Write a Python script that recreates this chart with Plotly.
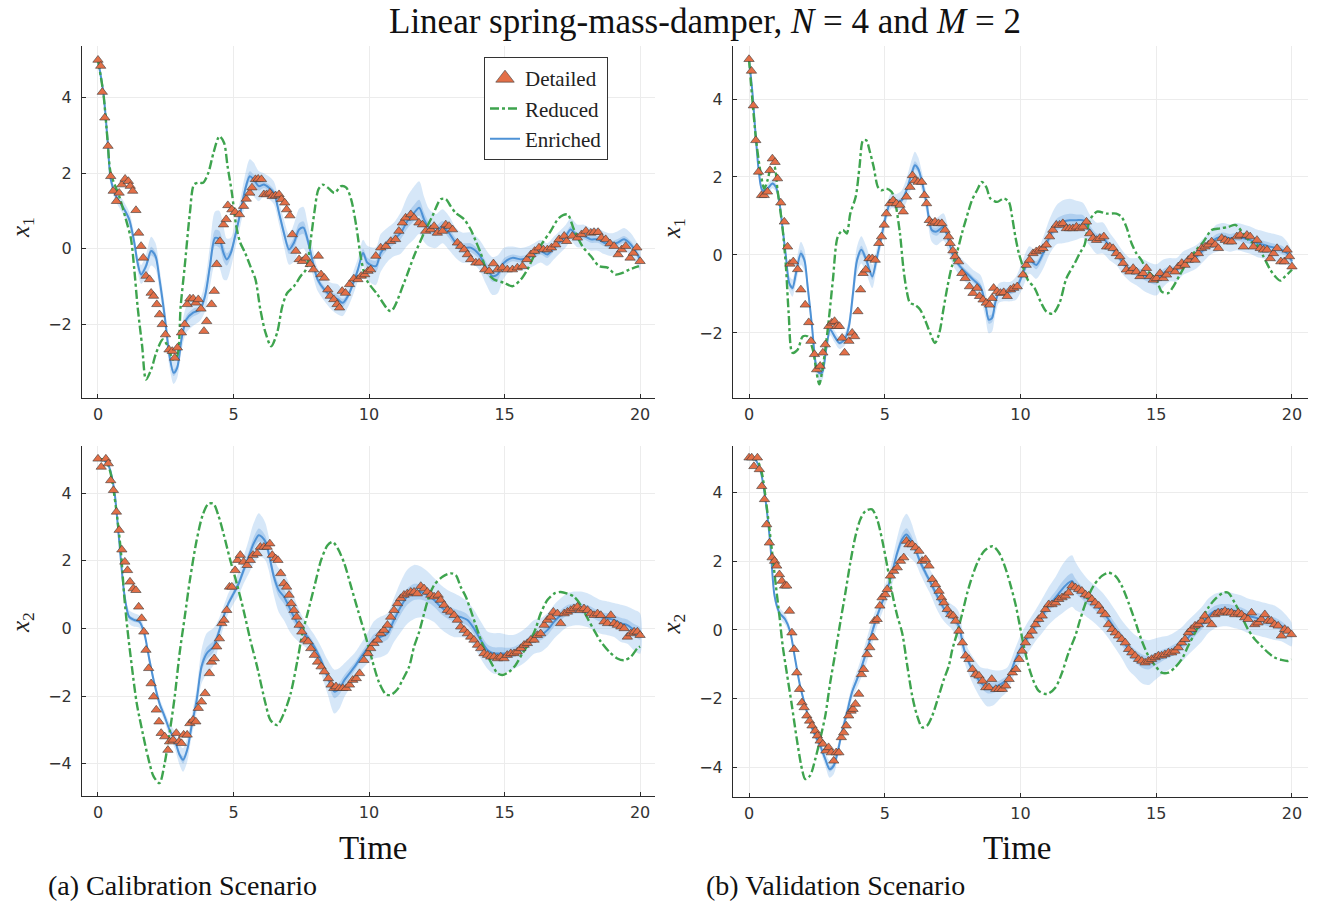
import plotly.graph_objects as go

# ---------------------------------------------------------------------------
# Linear spring-mass-damper trajectories, N = 4 and M = 2
# Detailed model samples (t, value); reduced model curve (t, value);
# enriched model mean with its uncertainty half-width (t, value, halfwidth)
# ---------------------------------------------------------------------------

# (a) Calibration scenario, state x1
cal_x1_detailed = [
    (0, 5.0), (0.1, 4.84), (0.16, 4.15), (0.25, 3.47), (0.37, 2.72), (0.47, 1.92), (0.56, 1.53),
    (0.68, 1.26), (0.78, 1.48), (0.88, 1.70), (1.0, 1.85), (1.12, 1.79), (1.19, 1.66), (1.28, 1.53),
    (1.40, 1.02), (1.50, 0.42), (1.59, 0.07), (1.67, -0.24), (1.77, -0.72), (1.90, -0.81), (1.96, -1.17),
    (2.05, -1.25), (2.17, -1.47), (2.27, -1.74), (2.37, -2.0), (2.49, -2.27), (2.62, -2.67), (2.74, -2.71),
    (2.83, -2.89), (2.93, -2.62), (3.08, -2.22), (3.2, -2.0), (3.29, -1.47), (3.39, -1.32), (3.51, -1.32),
    (3.61, -1.43), (3.70, -1.34), (3.80, -1.59), (3.91, -2.18), (4.01, -1.92), (4.19, -1.47), (4.29, -1.12),
    (4.38, -0.41), (4.5, 0.2), (4.63, 0.64), (4.73, 0.78), (4.79, 1.15), (4.94, 1.04), (5.06, 0.97),
    (5.22, 0.91), (5.37, 1.13), (5.47, 1.32), (5.6, 1.48), (5.68, 1.62), (5.81, 1.84), (5.91, 1.85),
    (6.03, 1.84), (6.12, 1.44), (6.22, 1.44), (6.34, 1.48), (6.43, 1.39), (6.55, 1.41), (6.68, 1.44),
    (6.77, 1.31), (6.89, 1.22), (6.96, 1.04), (7.08, 0.88), (7.17, 0.38), (7.30, -0.06), (7.42, -0.28),
    (7.54, -0.33), (7.67, -0.24), (7.83, -0.41), (7.95, -0.55), (8.13, -0.19), (8.23, -0.68), (8.35, -0.77),
    (8.48, -1.08), (8.57, -1.25), (8.70, -1.34), (8.82, -1.47), (8.91, -1.56), (9.01, -1.12), (9.13, -1.17),
    (9.28, -0.94), (9.44, -0.79), (9.59, -0.81), (9.71, -0.72), (9.84, -0.68), (9.96, -0.59),
    (10.06, -0.55), (10.25, -0.19), (10.43, 0.03), (10.62, 0.07), (10.8, 0.2), (10.98, 0.25), (11.1, 0.47),
    (11.23, 0.69), (11.35, 0.82), (11.54, 0.91), (11.66, 0.82), (11.84, 0.69), (11.97, 0.64), (12.09, 0.47),
    (12.28, 0.51), (12.4, 0.6), (12.52, 0.42), (12.71, 0.47), (12.83, 0.64), (12.95, 0.6), (13.08, 0.51),
    (13.26, 0.16), (13.38, 0.07), (13.51, -0.02), (13.63, -0.15), (13.75, -0.28), (13.94, -0.37),
    (14.06, -0.37), (14.27, -0.55), (14.43, -0.59), (14.59, -0.39), (14.74, -0.55), (14.92, -0.5),
    (15.1, -0.55), (15.29, -0.55), (15.47, -0.5), (15.66, -0.46), (15.82, -0.28), (15.97, -0.15),
    (16.11, -0.06), (16.27, 0.03), (16.43, -0.02), (16.58, -0.02), (16.73, 0.03), (16.89, 0.11),
    (17.01, 0.25), (17.2, 0.34), (17.29, 0.2), (17.5, 0.34), (17.69, 0.29), (17.84, 0.38), (18.0, 0.47),
    (18.18, 0.42), (18.3, 0.44), (18.45, 0.44), (18.57, 0.29), (18.73, 0.25), (18.89, 0.14), (19.04, 0.07),
    (19.19, -0.15), (19.32, -0.02), (19.47, 0.07), (19.63, -0.24), (19.75, -0.11), (19.88, 0.03), (20.0, -0.33),
]
cal_x1_reduced = [
    (0, 5.0), (0.2, 4.1), (0.35, 2.9), (0.47, 2.0), (0.78, 1.4), (1.03, 0.78), (1.22, 0.25), (1.34, -0.55),
    (1.46, -1.52), (1.63, -2.58), (1.77, -3.46), (1.96, -3.2), (2.15, -2.75), (2.39, -2.4), (2.58, -2.58),
    (2.77, -2.93), (2.92, -2.84), (3.05, -1.52), (3.2, -0.46), (3.39, 0.95), (3.54, 1.70), (3.70, 1.75),
    (3.88, 1.75), (4.07, 2.01), (4.26, 2.54), (4.48, 2.98), (4.65, 2.81), (4.78, 2.19), (4.94, 1.48),
    (5.1, 0.6), (5.25, 0.16), (5.43, -0.11), (5.62, -0.46), (5.81, -0.81), (5.99, -1.61), (6.18, -2.22),
    (6.39, -2.58), (6.61, -2.22), (6.80, -1.52), (6.98, -1.17), (7.23, -0.99), (7.48, -0.72), (7.67, -0.55),
    (7.85, 0.25), (7.98, 0.95), (8.13, 1.57), (8.29, 1.70), (8.48, 1.62), (8.72, 1.48), (8.97, 1.66),
    (9.16, 1.62), (9.34, 1.31), (9.53, 0.6), (9.71, -0.28), (9.9, -0.81), (10.3, -1.2), (10.8, -1.65),
    (11.29, -0.9), (11.66, -0.19), (12.03, 0.42), (12.34, 0.87), (12.64, 1.31), (12.83, 1.32), (13.01, 1.13),
    (13.2, 0.95), (13.51, 0.78), (13.75, 0.51), (13.94, 0.2), (14.12, -0.11), (14.37, -0.64), (14.61, -0.81),
    (14.98, -0.9), (15.29, -0.99), (15.6, -0.81), (15.84, -0.55), (16.09, -0.19), (16.4, 0.16), (16.7, 0.47),
    (17.01, 0.82), (17.32, 0.91), (17.56, 0.51), (17.87, 0.07), (18.18, -0.19), (18.49, -0.46), (18.8, -0.5),
    (19.1, -0.68), (19.35, -0.64), (19.6, -0.55), (19.96, -0.46),
]
cal_x1_enriched = [
    (0, 5.0, 0.08), (0.2, 4.13, 0.1), (0.35, 2.9, 0.12), (0.47, 1.84, 0.15), (0.66, 1.4, 0.15),
    (0.9, 1.13, 0.18), (1.15, 0.78, 0.2), (1.34, 0.16, 0.22), (1.46, -0.37, 0.22), (1.59, -0.68, 0.25),
    (1.77, -0.46, 0.3), (1.96, -0.06, 0.38), (2.12, -0.19, 0.35), (2.27, -0.81, 0.3), (2.46, -1.78, 0.3),
    (2.64, -2.84, 0.3), (2.79, -3.28, 0.3), (2.92, -3.15, 0.28), (3.08, -2.4, 0.3), (3.26, -1.87, 0.35),
    (3.51, -1.69, 0.35), (3.76, -1.61, 0.3), (3.95, -1.25, 0.4), (4.13, -0.46, 0.55), (4.32, 0.29, 0.7),
    (4.48, 0.25, 0.75), (4.63, -0.11, 0.7), (4.75, -0.28, 0.55), (4.9, -0.11, 0.4), (5.06, 0.34, 0.35),
    (5.25, 0.95, 0.35), (5.43, 1.57, 0.4), (5.6, 1.92, 0.45), (5.74, 1.84, 0.45), (5.93, 1.66, 0.4),
    (6.12, 1.7, 0.3), (6.3, 1.62, 0.3), (6.49, 1.48, 0.3), (6.68, 0.95, 0.3), (6.86, 0.42, 0.35),
    (7.05, -0.02, 0.4), (7.23, 0.16, 0.5), (7.42, 0.51, 0.55), (7.58, 0.56, 0.55), (7.73, 0.25, 0.45),
    (7.92, -0.33, 0.35), (8.1, -0.81, 0.3), (8.35, -1.08, 0.3), (8.6, -1.25, 0.35), (8.85, -1.34, 0.4),
    (9.03, -1.43, 0.35), (9.22, -1.25, 0.3), (9.40, -0.94, 0.3), (9.59, -0.55, 0.3), (9.78, -0.11, 0.35),
    (9.94, -0.37, 0.45), (10.25, -0.46, 0.5), (10.43, -0.11, 0.5), (10.68, 0.11, 0.45), (10.92, 0.25, 0.45),
    (11.17, 0.42, 0.55), (11.41, 0.73, 0.65), (11.66, 0.95, 0.7), (11.85, 1.09, 0.7), (12.03, 0.78, 0.6),
    (12.21, 0.56, 0.5), (12.46, 0.47, 0.45), (12.71, 0.6, 0.45), (12.95, 0.42, 0.45), (13.2, 0.16, 0.4),
    (13.44, 0.03, 0.4), (13.75, 0.03, 0.4), (14.06, -0.15, 0.4), (14.3, -0.46, 0.45), (14.55, -0.72, 0.5),
    (14.74, -0.68, 0.5), (14.98, -0.37, 0.4), (15.29, -0.24, 0.3), (15.6, -0.28, 0.3), (15.84, -0.24, 0.3),
    (16.09, -0.15, 0.3), (16.33, -0.06, 0.3), (16.58, -0.15, 0.3), (16.83, 0.03, 0.3), (17.07, 0.2, 0.3),
    (17.26, 0.34, 0.3), (17.44, 0.51, 0.3), (17.69, 0.34, 0.3), (17.93, 0.34, 0.3), (18.18, 0.25, 0.3),
    (18.43, 0.25, 0.3), (18.67, 0.16, 0.3), (18.92, 0.11, 0.3), (19.16, 0.16, 0.3), (19.41, 0.25, 0.3),
    (19.66, 0.11, 0.3), (19.9, -0.15, 0.3), (20, -0.28, 0.3),
]

# (b) Validation scenario, state x1
val_x1_detailed = [
    (0, 5.02), (0.09, 4.72), (0.16, 3.83), (0.25, 2.94), (0.35, 2.13), (0.46, 1.53), (0.56, 1.53),
    (0.68, 1.62), (0.77, 2.17), (0.86, 2.47), (0.96, 2.38), (1.05, 1.96), (1.17, 1.34), (1.3, 0.85),
    (1.42, 0.21), (1.51, -0.23), (1.63, -0.17), (1.79, -0.37), (1.91, -0.89), (2.07, -1.28), (2.2, -1.73),
    (2.28, -2.21), (2.41, -2.55), (2.49, -2.94), (2.62, -2.85), (2.72, -2.51), (2.81, -2.3), (2.94, -1.83),
    (3.05, -1.74), (3.15, -1.70), (3.23, -1.83), (3.33, -1.83), (3.43, -2.13), (3.52, -2.51), (3.68, -2.21),
    (3.80, -2.0), (3.89, -2.09), (4.01, -1.45), (4.11, -0.89), (4.20, -0.47), (4.3, -0.38), (4.42, -0.09),
    (4.54, -0.09), (4.65, -0.13), (4.78, 0.3), (4.88, 0.47), (4.98, 0.77), (5.06, 1.06), (5.19, 1.32),
    (5.31, 1.4), (5.43, 1.32), (5.56, 1.28), (5.68, 1.11), (5.80, 1.49), (5.93, 1.74), (6.02, 2.04),
    (6.11, 1.91), (6.23, 1.87), (6.36, 1.87), (6.46, 1.53), (6.54, 1.32), (6.64, 0.89), (6.73, 0.81),
    (6.85, 0.85), (6.98, 0.81), (7.10, 0.81), (7.22, 0.64), (7.35, 0.47), (7.41, 0.3), (7.51, 0.11),
    (7.59, -0.04), (7.72, -0.17), (7.84, -0.47), (7.96, -0.6), (8.12, -0.81), (8.25, -0.98), (8.4, -0.85),
    (8.49, -1.06), (8.62, -1.15), (8.74, -1.23), (8.86, -1.28), (8.95, -1.11), (9.01, -0.85), (9.14, -0.94),
    (9.26, -0.98), (9.38, -0.96), (9.51, -1.06), (9.63, -0.89), (9.75, -0.85), (9.88, -0.81),
    (10.09, -0.51), (10.21, -0.26), (10.33, -0.13), (10.46, 0.04), (10.58, 0.09), (10.7, 0.13), (10.83, 0.17),
    (10.95, 0.26), (11.07, 0.47), (11.19, 0.64), (11.32, 0.77), (11.44, 0.77), (11.56, 0.81), (11.69, 0.68),
    (11.81, 0.68), (11.93, 0.68), (12.06, 0.72), (12.18, 0.68), (12.3, 0.72), (12.43, 0.85), (12.55, 0.55),
    (12.67, 0.43), (12.8, 0.38), (12.92, 0.43), (13.07, 0.47), (13.17, 0.21), (13.29, 0.21), (13.41, 0.17),
    (13.53, 0.04), (13.66, -0.04), (13.78, -0.21), (13.9, -0.38), (14.03, -0.43), (14.15, -0.34),
    (14.27, -0.43), (14.4, -0.55), (14.52, -0.47), (14.64, -0.34), (14.77, -0.55), (14.89, -0.64),
    (15.01, -0.6), (15.14, -0.47), (15.26, -0.6), (15.38, -0.51), (15.5, -0.38), (15.69, -0.43), (15.81, -0.3),
    (15.94, -0.21), (16.06, -0.26), (16.18, -0.13), (16.31, -0.04), (16.43, -0.13), (16.55, 0.04),
    (16.67, 0.17), (16.8, 0.21), (16.92, 0.26), (17.04, 0.34), (17.17, 0.26), (17.29, 0.17), (17.41, 0.43),
    (17.54, 0.38), (17.66, 0.34), (17.78, 0.34), (17.97, 0.47), (18.09, 0.51), (18.21, 0.21), (18.34, 0.51),
    (18.46, 0.47), (18.58, 0.21), (18.71, 0.38), (18.83, 0.17), (18.95, 0.13), (19.08, 0.13), (19.2, -0.09),
    (19.32, 0.04), (19.45, 0.17), (19.59, -0.17), (19.72, -0.17), (19.82, 0.13), (19.91, -0.04), (20.0, -0.3),
]
val_x1_reduced = [
    (0, 5.02), (0.25, 3.02), (0.43, 2.09), (0.56, 1.70), (0.68, 1.91), (0.8, 2.21), (0.93, 2.26),
    (1.05, 1.66), (1.23, 0.72), (1.36, -0.3), (1.46, -1.49), (1.6, -2.51), (1.79, -2.43), (1.98, -2.09),
    (2.16, -2.09), (2.35, -2.43), (2.49, -3.02), (2.59, -3.32), (2.74, -2.77), (2.9, -1.91), (3.09, -0.64),
    (3.27, 0.47), (3.46, 0.64), (3.6, 0.55), (3.73, 1.06), (3.93, 1.49), (4.07, 2.26), (4.2, 2.94),
    (4.32, 2.94), (4.44, 2.68), (4.59, 2.26), (4.75, 1.74), (4.88, 1.66), (5.06, 1.70), (5.25, 1.62),
    (5.37, 1.40), (5.56, 0.55), (5.68, -0.3), (5.8, -0.89), (5.93, -1.23), (6.11, -1.28), (6.3, -1.40),
    (6.48, -1.66), (6.67, -2.0), (6.85, -2.26), (7.01, -2.0), (7.16, -1.40), (7.31, -0.81), (7.47, -0.30),
    (7.65, 0.04), (7.84, 0.55), (8.02, 0.98), (8.21, 1.40), (8.4, 1.66), (8.58, 1.87), (8.74, 1.74),
    (8.89, 1.45), (9.14, 1.36), (9.38, 1.45), (9.57, 1.36), (9.69, 0.98), (9.81, 0.47), (9.94, 0.04),
    (10.09, -0.3), (10.27, -0.64), (10.52, -0.85), (10.76, -1.23), (10.95, -1.45), (11.19, -1.51),
    (11.44, -1.23), (11.69, -0.6), (12.0, -0.21), (12.18, 0.04), (12.36, 0.26), (12.55, 0.89), (12.82, 1.11),
    (13.17, 1.06), (13.53, 1.06), (13.72, 0.98), (13.9, 0.72), (14.09, 0.3), (14.27, 0.04), (14.46, -0.14),
    (14.64, -0.38), (14.83, -0.51), (15.01, -0.64), (15.2, -0.94), (15.44, -0.98), (15.63, -0.81),
    (15.87, -0.51), (16.12, -0.21), (16.43, 0.09), (16.74, 0.34), (17.04, 0.64), (17.35, 0.68), (17.66, 0.72),
    (17.91, 0.77), (18.21, 0.55), (18.46, 0.34), (18.71, 0.26), (18.95, -0.04), (19.2, -0.38), (19.38, -0.55),
    (19.57, -0.66), (19.75, -0.55), (20, -0.38),
]
val_x1_enriched = [
    (0, 5.02, 0.05), (0.12, 4.21, 0.08), (0.25, 3.02, 0.1), (0.37, 2.09, 0.12), (0.49, 1.66, 0.12),
    (0.68, 1.70, 0.12), (0.86, 1.83, 0.12), (0.99, 1.74, 0.12), (1.11, 1.40, 0.15), (1.23, 0.72, 0.15),
    (1.36, -0.04, 0.18), (1.48, -0.72, 0.2), (1.6, -0.85, 0.22), (1.73, -0.47, 0.25), (1.91, 0.04, 0.3),
    (2.04, -0.13, 0.28), (2.16, -0.81, 0.22), (2.32, -1.83, 0.2), (2.47, -2.85, 0.2), (2.57, -3.02, 0.2),
    (2.69, -3.02, 0.2), (2.84, -2.43, 0.18), (2.99, -1.91, 0.15), (3.15, -2.09, 0.15), (3.33, -2.26, 0.15),
    (3.52, -2.17, 0.15), (3.68, -1.83, 0.2), (3.83, -0.98, 0.3), (3.98, -0.13, 0.35), (4.14, 0.13, 0.35),
    (4.32, -0.13, 0.35), (4.54, -0.55, 0.3), (4.69, -0.13, 0.25), (4.88, 0.47, 0.2), (5.06, 1.06, 0.2),
    (5.25, 1.40, 0.2), (5.43, 1.36, 0.2), (5.62, 1.40, 0.25), (5.80, 1.66, 0.3), (5.99, 2.09, 0.35),
    (6.11, 2.3, 0.35), (6.23, 2.21, 0.3), (6.36, 1.91, 0.25), (6.54, 1.32, 0.25), (6.73, 0.64, 0.3),
    (6.91, 0.6, 0.35), (7.16, 0.72, 0.35), (7.35, 0.38, 0.3), (7.53, -0.04, 0.25), (7.78, -0.3, 0.25),
    (8.02, -0.47, 0.25), (8.27, -0.64, 0.25), (8.52, -0.81, 0.3), (8.7, -1.23, 0.35), (8.83, -1.66, 0.35),
    (8.95, -1.62, 0.35), (9.07, -1.23, 0.3), (9.2, -0.98, 0.25), (9.38, -0.94, 0.25), (9.63, -0.94, 0.25),
    (9.84, -0.85, 0.3), (10.09, -0.47, 0.35), (10.33, -0.13, 0.35), (10.58, -0.26, 0.35), (10.83, 0.04, 0.4),
    (11.07, 0.47, 0.45), (11.32, 0.77, 0.5), (11.56, 0.85, 0.55), (11.81, 0.89, 0.55), (12.06, 0.89, 0.5),
    (12.3, 0.89, 0.45), (12.55, 0.64, 0.4), (12.8, 0.43, 0.4), (13.04, 0.43, 0.4), (13.29, 0.21, 0.35),
    (13.53, 0.04, 0.3), (13.78, -0.21, 0.3), (14.03, -0.38, 0.3), (14.27, -0.43, 0.35), (14.52, -0.51, 0.4),
    (14.77, -0.6, 0.4), (15.01, -0.64, 0.4), (15.26, -0.47, 0.35), (15.5, -0.38, 0.3), (15.75, -0.38, 0.3),
    (15.99, -0.21, 0.3), (16.24, -0.13, 0.3), (16.49, -0.04, 0.3), (16.74, 0.13, 0.3), (16.98, 0.3, 0.3),
    (17.23, 0.43, 0.35), (17.48, 0.47, 0.35), (17.72, 0.43, 0.35), (17.97, 0.47, 0.35), (18.21, 0.43, 0.35),
    (18.46, 0.38, 0.35), (18.71, 0.3, 0.35), (18.95, 0.26, 0.35), (19.2, 0.21, 0.35), (19.45, 0.17, 0.35),
    (19.63, 0.13, 0.35), (19.82, 0.04, 0.3), (20, -0.17, 0.25),
]

# (a) Calibration scenario, state x2
cal_x2_detailed = [
    (0, 5.02), (0.12, 4.78), (0.29, 5.02), (0.38, 4.88), (0.47, 4.38), (0.57, 4.09), (0.68, 3.45),
    (0.78, 2.91), (0.88, 2.33), (0.99, 1.97), (1.09, 1.72), (1.18, 1.38), (1.3, 1.18), (1.40, 1.13),
    (1.50, 0.64), (1.61, 0.3), (1.69, -0.1), (1.77, -0.64), (1.87, -1.18), (1.96, -1.63), (2.05, -2.02),
    (2.15, -2.41), (2.25, -2.76), (2.33, -3.1), (2.46, -3.2), (2.58, -3.6), (2.64, -3.35), (2.77, -3.3),
    (2.89, -3.1), (2.99, -3.35), (3.08, -3.4), (3.16, -3.15), (3.29, -3.15), (3.39, -2.81), (3.51, -2.71),
    (3.61, -2.76), (3.70, -2.36), (3.82, -2.17), (3.95, -1.92), (4.11, -1.33), (4.19, -0.99), (4.29, -0.89),
    (4.38, -0.54), (4.48, -0.3), (4.57, 0.15), (4.65, 0.25), (4.75, 0.54), (4.85, 1.23), (4.94, 1.23),
    (5.06, 1.72), (5.15, 2.02), (5.25, 2.17), (5.37, 1.97), (5.5, 1.87), (5.62, 2.02), (5.72, 2.17),
    (5.87, 2.22), (5.99, 2.41), (6.12, 2.41), (6.24, 2.41), (6.34, 2.51), (6.43, 2.17), (6.55, 2.07),
    (6.64, 2.02), (6.74, 1.63), (6.86, 1.33), (6.96, 1.23), (7.05, 0.99), (7.13, 0.74), (7.23, 0.54),
    (7.33, 0.34), (7.42, 0.1), (7.52, -0.1), (7.63, -0.34), (7.75, -0.39), (7.85, -0.59), (7.98, -0.79),
    (8.1, -0.99), (8.23, -1.13), (8.35, -1.28), (8.5, -1.48), (8.6, -1.67), (8.70, -1.77), (8.78, -1.72),
    (8.91, -1.77), (9.03, -1.77), (9.16, -1.77), (9.28, -1.67), (9.40, -1.53), (9.53, -1.48), (9.65, -1.33),
    (9.81, -0.94), (9.96, -0.74),
    (10.06, -0.59), (10.18, -0.44), (10.31, -0.34), (10.43, -0.15), (10.55, -0.05), (10.68, 0.1),
    (10.8, 0.34), (10.92, 0.54), (11.05, 0.74), (11.17, 0.89), (11.29, 0.99), (11.41, 1.03), (11.54, 1.08),
    (11.66, 1.08), (11.78, 1.03), (11.91, 1.25), (12.03, 1.18), (12.15, 1.08), (12.28, 0.99), (12.4, 0.94),
    (12.55, 0.99), (12.64, 0.84), (12.77, 0.69), (12.89, 0.54), (13.01, 0.49), (13.14, 0.39), (13.26, 0.25),
    (13.38, 0.05), (13.51, -0.05), (13.63, -0.15), (13.75, -0.25), (13.87, -0.34), (14.0, -0.49),
    (14.12, -0.59), (14.24, -0.74), (14.37, -0.79), (14.49, -0.84), (14.61, -0.84), (14.74, -0.89),
    (14.86, -0.84), (14.98, -0.89), (15.1, -0.79), (15.23, -0.74), (15.35, -0.74), (15.47, -0.69),
    (15.6, -0.59), (15.72, -0.49), (15.84, -0.44), (15.97, -0.34), (16.09, -0.34), (16.21, -0.2),
    (16.33, -0.15), (16.46, 0.1), (16.58, 0.25), (16.7, 0.34), (16.8, 0.49), (16.95, 0.44), (17.07, 0.15),
    (17.2, 0.44), (17.32, 0.49), (17.44, 0.54), (17.56, 0.59), (17.69, 0.64), (17.81, 0.54), (17.93, 0.59),
    (18.06, 0.54), (18.18, 0.44), (18.3, 0.39), (18.43, 0.44), (18.55, 0.39), (18.67, 0.2), (18.8, 0.15),
    (18.92, 0.39), (19.04, 0.15), (19.16, 0.1), (19.29, 0.05), (19.41, 0.0), (19.53, -0.25), (19.66, -0.15),
    (19.78, -0.1), (19.9, -0.1), (20.0, -0.2),
]
cal_x2_reduced = [
    (0, 5.02), (0.29, 4.98), (0.47, 4.58), (0.66, 3.6), (0.84, 2.32), (0.97, 0.94), (1.09, -0.05),
    (1.25, -1.13), (1.43, -2.22), (1.65, -3.1), (1.84, -3.79), (2.05, -4.38), (2.27, -4.58), (2.46, -3.99),
    (2.64, -3.1), (2.83, -2.02), (3.01, -0.74), (3.2, 0.34), (3.39, 1.43), (3.64, 2.61), (3.86, 3.35),
    (4.07, 3.69), (4.26, 3.69), (4.44, 3.35), (4.63, 2.81), (4.88, 2.02), (5.12, 1.33), (5.37, 0.54),
    (5.62, -0.34), (5.87, -1.13), (6.18, -2.22), (6.36, -2.71), (6.61, -2.86), (6.86, -2.51), (7.11, -1.92),
    (7.36, -0.94), (7.54, -0.15), (7.73, 0.44), (7.98, 1.23), (8.23, 2.02), (8.47, 2.46), (8.66, 2.56),
    (8.85, 2.36), (9.09, 1.92), (9.34, 1.23), (9.59, 0.54), (9.88, -0.25), (10.12, -0.95), (10.37, -1.6),
    (10.62, -1.95), (10.8, -1.97), (11.05, -1.8), (11.23, -1.53), (11.48, -1.13), (11.66, -0.54),
    (11.85, -0.1), (12.03, 0.44), (12.21, 0.94), (12.4, 1.28), (12.71, 1.53), (13.01, 1.63), (13.2, 1.58),
    (13.38, 1.23), (13.57, 0.94), (13.75, 0.54), (14.0, -0.05), (14.24, -0.59), (14.49, -0.99), (14.74, -1.33),
    (14.92, -1.38), (15.17, -1.28), (15.41, -1.08), (15.66, -0.74), (15.9, -0.44), (16.15, 0.0), (16.33, 0.44),
    (16.58, 0.84), (16.83, 1.03), (17.07, 1.08), (17.32, 1.03), (17.56, 0.94), (17.81, 0.69), (18.06, 0.3),
    (18.3, -0.05), (18.55, -0.39), (18.86, -0.69), (19.16, -0.89), (19.41, -0.94), (19.66, -0.84),
    (19.9, -0.59), (20, -0.54),
]
cal_x2_enriched = [
    (0, 5.02, 0.05), (0.22, 4.98, 0.05), (0.41, 4.78, 0.06), (0.6, 4.09, 0.08), (0.78, 2.61, 0.1),
    (0.97, 1.03, 0.12), (1.15, 0.34, 0.2), (1.34, 0.25, 0.2), (1.53, 0.2, 0.18), (1.71, -0.15, 0.15),
    (1.9, -0.94, 0.15), (2.08, -1.63, 0.15), (2.27, -2.22, 0.15), (2.46, -2.61, 0.15), (2.64, -3.0, 0.2),
    (2.83, -3.3, 0.25), (3.01, -3.74, 0.3), (3.14, -3.89, 0.35), (3.29, -3.6, 0.35), (3.45, -2.91, 0.3),
    (3.64, -2.12, 0.35), (3.82, -1.13, 0.5), (4.01, -0.74, 0.6), (4.26, -0.54, 0.55), (4.44, -0.15, 0.4),
    (4.63, 0.34, 0.3), (4.81, 0.74, 0.3), (5.0, 1.03, 0.3), (5.19, 1.33, 0.35), (5.37, 1.72, 0.4),
    (5.56, 2.12, 0.5), (5.74, 2.51, 0.6), (5.93, 2.76, 0.65), (6.05, 2.71, 0.6), (6.18, 2.56, 0.55),
    (6.3, 2.22, 0.5), (6.49, 1.53, 0.55), (6.67, 1.13, 0.65), (6.86, 0.94, 0.7), (7.05, 0.64, 0.7),
    (7.23, 0.34, 0.6), (7.48, 0.0, 0.45), (7.73, -0.25, 0.35), (7.98, -0.54, 0.35), (8.23, -0.94, 0.4),
    (8.47, -1.43, 0.5), (8.72, -1.87, 0.65), (8.91, -1.77, 0.6), (9.09, -1.53, 0.5), (9.28, -1.33, 0.45),
    (9.47, -1.13, 0.4), (9.71, -0.84, 0.4), (9.94, -0.59, 0.45), (10.18, -0.34, 0.55), (10.43, -0.25, 0.6),
    (10.68, -0.15, 0.6), (10.92, 0.25, 0.65), (11.17, 0.64, 0.75), (11.41, 0.94, 0.8), (11.66, 1.08, 0.8),
    (11.91, 1.08, 0.75), (12.15, 0.99, 0.7), (12.4, 0.84, 0.65), (12.64, 0.64, 0.65), (12.89, 0.49, 0.65),
    (13.14, 0.39, 0.65), (13.38, 0.34, 0.6), (13.63, 0.25, 0.55), (13.87, 0.0, 0.55), (14.12, -0.34, 0.55),
    (14.37, -0.64, 0.55), (14.61, -0.74, 0.6), (14.86, -0.74, 0.6), (15.1, -0.74, 0.55), (15.35, -0.69, 0.5),
    (15.6, -0.59, 0.5), (15.84, -0.44, 0.5), (16.09, -0.25, 0.5), (16.33, -0.2, 0.5), (16.58, -0.05, 0.5),
    (16.83, 0.2, 0.5), (17.07, 0.39, 0.5), (17.32, 0.54, 0.5), (17.56, 0.59, 0.5), (17.81, 0.59, 0.5),
    (18.06, 0.54, 0.5), (18.3, 0.44, 0.5), (18.55, 0.34, 0.5), (18.8, 0.3, 0.5), (19.04, 0.25, 0.5),
    (19.29, 0.15, 0.55), (19.53, 0.1, 0.55), (19.78, -0.05, 0.6), (20, -0.15, 0.6),
]

# (b) Validation scenario, state x2
val_x2_detailed = [
    (0, 5.0), (0.1, 5.0), (0.18, 4.75), (0.31, 5.0), (0.38, 4.66), (0.47, 4.17), (0.57, 3.79), (0.65, 3.06),
    (0.75, 2.53), (0.85, 2.10), (0.94, 2.0), (1.02, 1.86), (1.12, 1.61), (1.21, 1.42), (1.31, 1.28),
    (1.39, 1.28), (1.49, 0.55), (1.58, -0.08), (1.66, -0.56), (1.76, -1.24), (1.86, -1.72), (1.95, -2.11),
    (2.03, -2.25), (2.13, -2.49), (2.23, -2.64), (2.32, -2.78), (2.44, -2.93), (2.52, -3.07), (2.62, -3.22),
    (2.72, -3.31), (2.83, -3.51), (2.93, -3.41), (3.03, -3.56), (3.12, -3.8), (3.21, -3.56), (3.31, -3.56),
    (3.40, -3.12), (3.49, -2.98), (3.58, -2.78), (3.67, -2.49), (3.76, -2.35), (3.83, -2.30), (3.92, -2.15),
    (4.04, -1.86), (4.14, -1.29), (4.22, -1.14), (4.35, -0.71), (4.45, -0.51), (4.57, -0.22), (4.62, 0.26),
    (4.72, 0.31), (4.82, 0.70), (4.9, 0.94), (5.02, 1.03), (5.09, 1.18), (5.21, 1.57), (5.33, 1.71),
    (5.46, 1.81), (5.58, 2.0), (5.70, 2.10), (5.80, 2.58), (5.89, 2.48), (6.01, 2.48), (6.13, 2.39),
    (6.26, 2.29), (6.38, 2.0), (6.5, 2.05), (6.63, 1.86), (6.75, 1.47), (6.87, 1.32), (7.0, 1.13),
    (7.09, 0.94), (7.18, 0.79), (7.30, 0.60), (7.43, 0.45), (7.52, 0.41), (7.61, 0.26), (7.73, -0.03),
    (7.86, -0.37), (7.98, -0.75), (8.10, -0.85), (8.23, -1.14), (8.35, -1.29), (8.47, -1.33), (8.6, -1.48),
    (8.72, -1.67), (8.84, -1.67), (8.94, -1.43), (9.09, -1.72), (9.21, -1.72), (9.33, -1.72), (9.46, -1.62),
    (9.58, -1.43), (9.70, -1.24), (9.83, -1.14), (9.95, -0.85),
    (10.06, -0.61), (10.18, -0.37), (10.31, -0.17), (10.43, -0.03), (10.55, 0.16), (10.67, 0.31),
    (10.8, 0.41), (10.92, 0.6), (11.04, 0.74), (11.16, 0.74), (11.29, 0.79), (11.41, 0.89), (11.53, 0.94),
    (11.65, 0.99), (11.77, 1.08), (11.9, 1.28), (12.02, 1.23), (12.14, 1.18), (12.26, 1.13), (12.39, 1.03),
    (12.51, 0.99), (12.63, 0.89), (12.75, 0.79), (12.88, 0.7), (13.0, 0.55), (13.12, 0.45), (13.24, 0.16),
    (13.37, 0.02), (13.49, -0.08), (13.61, -0.17), (13.73, -0.27), (13.86, -0.37), (13.98, -0.56),
    (14.1, -0.66), (14.22, -0.75), (14.35, -0.85), (14.47, -0.9), (14.59, -0.95), (14.71, -0.9),
    (14.83, -0.85), (14.96, -0.8), (15.08, -0.75), (15.2, -0.75), (15.32, -0.71), (15.45, -0.66),
    (15.57, -0.66), (15.69, -0.61), (15.81, -0.51), (15.94, -0.37), (16.06, -0.27), (16.18, -0.08),
    (16.3, 0.02), (16.43, 0.12), (16.55, 0.16), (16.67, 0.26), (16.79, 0.41), (16.92, 0.26), (17.04, 0.16),
    (17.16, 0.45), (17.28, 0.5), (17.41, 0.5), (17.53, 0.55), (17.65, 0.5), (17.77, 0.5), (17.89, 0.45),
    (18.02, 0.5), (18.14, 0.45), (18.26, 0.36), (18.38, 0.31), (18.51, 0.5), (18.63, 0.16), (18.75, 0.21),
    (18.87, 0.31), (19.0, 0.45), (19.12, 0.26), (19.24, 0.26), (19.36, 0.16), (19.49, 0.12), (19.61, -0.17),
    (19.73, 0.02), (19.85, -0.03), (19.98, -0.13),
]
val_x2_reduced = [
    (0, 5.0), (0.28, 4.95), (0.47, 4.56), (0.65, 3.59), (0.84, 2.34), (0.99, 1.28), (1.12, 0.41),
    (1.24, -0.46), (1.39, -1.24), (1.58, -2.2), (1.76, -3.17), (1.95, -4.04), (2.07, -4.33), (2.25, -4.23),
    (2.44, -3.75), (2.62, -3.17), (2.81, -2.49), (2.99, -1.53), (3.18, -0.66), (3.36, 0.21), (3.55, 1.08),
    (3.73, 1.95), (3.92, 2.72), (4.1, 3.21), (4.29, 3.45), (4.53, 3.5), (4.72, 3.21), (4.9, 2.63),
    (5.09, 1.86), (5.27, 1.08), (5.46, 0.41), (5.64, -0.08), (5.83, -1.04), (6.01, -1.91), (6.19, -2.49),
    (6.38, -2.83), (6.56, -2.78), (6.75, -2.49), (6.99, -1.91), (7.18, -1.43), (7.36, -1.04), (7.49, -0.56),
    (7.67, -0.08), (7.86, 0.5), (8.04, 1.08), (8.23, 1.57), (8.41, 1.95), (8.66, 2.29), (8.97, 2.43),
    (9.21, 2.24), (9.46, 1.76), (9.64, 1.28), (9.83, 0.7), (10.12, -0.46), (10.37, -1.24), (10.67, -1.77),
    (10.98, -1.86), (11.29, -1.67), (11.53, -1.24), (11.77, -0.66), (12.02, -0.17), (12.2, 0.31),
    (12.45, 0.89), (12.69, 1.28), (13.0, 1.57), (13.24, 1.66), (13.49, 1.57), (13.73, 1.28), (13.98, 0.79),
    (14.22, 0.26), (14.47, -0.32), (14.71, -0.75), (14.96, -1.04), (15.2, -1.24), (15.45, -1.24),
    (15.69, -1.09), (15.94, -0.85), (16.18, -0.46), (16.43, -0.08), (16.67, 0.31), (16.92, 0.65),
    (17.16, 0.89), (17.47, 1.08), (17.65, 1.08), (17.89, 0.79), (18.14, 0.41), (18.38, 0.02), (18.63, -0.27),
    (18.87, -0.46), (19.12, -0.66), (19.36, -0.8), (19.61, -0.87), (19.85, -0.9), (19.98, -0.85),
]
val_x2_enriched = [
    (0, 5.0, 0.04), (0.22, 4.95, 0.05), (0.41, 4.66, 0.06), (0.59, 3.88, 0.08), (0.78, 2.53, 0.1),
    (0.94, 0.99, 0.12), (1.12, 0.5, 0.15), (1.33, 0.31, 0.15), (1.51, -0.03, 0.12), (1.7, -0.85, 0.12),
    (1.88, -1.62, 0.12), (2.07, -2.2, 0.12), (2.25, -2.69, 0.12), (2.44, -3.07, 0.12), (2.62, -3.36, 0.15),
    (2.81, -3.75, 0.2), (2.97, -4.04, 0.25), (3.12, -3.94, 0.25), (3.26, -3.56, 0.2), (3.42, -2.98, 0.18),
    (3.61, -2.4, 0.2), (3.79, -1.82, 0.2), (3.98, -1.43, 0.25), (4.16, -1.04, 0.3), (4.35, -0.56, 0.35),
    (4.53, -0.08, 0.35), (4.72, 0.41, 0.3), (4.9, 0.79, 0.3), (5.09, 1.18, 0.3), (5.27, 1.66, 0.35),
    (5.46, 2.24, 0.45), (5.64, 2.63, 0.55), (5.8, 2.77, 0.6), (5.95, 2.63, 0.55), (6.13, 2.34, 0.4),
    (6.32, 1.95, 0.35), (6.5, 1.66, 0.35), (6.69, 1.37, 0.35), (6.87, 1.08, 0.4), (7.06, 0.79, 0.4),
    (7.24, 0.55, 0.35), (7.43, 0.41, 0.35), (7.61, 0.26, 0.4), (7.73, 0.12, 0.4), (7.92, -0.56, 0.35),
    (8.1, -0.95, 0.35), (8.29, -1.24, 0.4), (8.53, -1.53, 0.45), (8.78, -1.67, 0.55), (9.03, -1.67, 0.5),
    (9.27, -1.57, 0.4), (9.52, -1.43, 0.35), (9.82, -0.85, 0.35), (10.06, -0.46, 0.4), (10.31, -0.17, 0.45),
    (10.55, 0.12, 0.45), (10.8, 0.41, 0.5), (11.04, 0.7, 0.55), (11.29, 0.94, 0.6), (11.53, 1.18, 0.7),
    (11.77, 1.37, 0.75), (11.9, 1.42, 0.75), (12.02, 1.28, 0.7), (12.26, 1.08, 0.6), (12.51, 0.89, 0.55),
    (12.75, 0.74, 0.55), (13.0, 0.55, 0.55), (13.24, 0.31, 0.55), (13.49, 0.02, 0.55), (13.73, -0.27, 0.55),
    (13.98, -0.56, 0.6), (14.22, -0.75, 0.6), (14.47, -0.9, 0.65), (14.71, -0.95, 0.65), (14.96, -0.85, 0.6),
    (15.2, -0.75, 0.55), (15.45, -0.66, 0.5), (15.69, -0.56, 0.5), (15.94, -0.42, 0.5), (16.18, -0.22, 0.5),
    (16.43, -0.03, 0.5), (16.67, 0.16, 0.5), (16.92, 0.41, 0.5), (17.16, 0.55, 0.5), (17.41, 0.6, 0.5),
    (17.65, 0.6, 0.5), (17.89, 0.55, 0.5), (18.14, 0.5, 0.5), (18.38, 0.41, 0.5), (18.63, 0.36, 0.5),
    (18.87, 0.31, 0.5), (19.12, 0.26, 0.5), (19.36, 0.21, 0.5), (19.61, 0.12, 0.45), (19.85, -0.03, 0.4),
    (19.98, -0.13, 0.35),
]

time_ticks = [0, 5, 10, 15, 20]
x1_ticks = [-2, 0, 2, 4]
x2_ticks = [-4, -2, 0, 2, 4]

# ---------------------------------------------------------------------------
# Styling
# ---------------------------------------------------------------------------
DETAILED_FILL = "#E36F47"
REDUCED_COLOR = "#3EA44E"
ENRICHED_COLOR = "#4E92D6"
BAND_OUTER = "rgba(120,176,232,0.30)"
BAND_INNER = "rgba(78,146,214,0.28)"
SERIF = "Liberation Serif, DejaVu Serif, serif"
SANS = "DejaVu Sans, sans-serif"
W, H = 1323, 901

panels = [
    dict(det=cal_x1_detailed, red=cal_x1_reduced, enr=cal_x1_enriched, ax="",
         box=(82, 655, 46, 398), xr=(-0.59, 20.55), yr=(-3.95, 5.37), yt=x1_ticks, lab="1", dy=6),
    dict(det=val_x1_detailed, red=val_x1_reduced, enr=val_x1_enriched, ax="2",
         box=(733, 1308, 46, 398), xr=(-0.59, 20.59), yr=(-3.67, 5.36), yt=x1_ticks, lab="1", dy=6),
    dict(det=cal_x2_detailed, red=cal_x2_reduced, enr=cal_x2_enriched, ax="3",
         box=(82, 655, 446, 796), xr=(-0.59, 20.55), yr=(-4.96, 5.4), yt=x2_ticks, lab="2", dy=2),
    dict(det=val_x2_detailed, red=val_x2_reduced, enr=val_x2_enriched, ax="4",
         box=(733, 1308, 446, 797), xr=(-0.59, 20.59), yr=(-4.85, 5.34), yt=x2_ticks, lab="2", dy=2),
]

fig = go.Figure()
annotations = []

for i, p in enumerate(panels):
    xa, ya = "x" + p["ax"], "y" + p["ax"]
    first = i == 0

    et = [r[0] for r in p["enr"]]
    ev = [r[1] for r in p["enr"]]
    ew = [r[2] for r in p["enr"]]

    # uncertainty ribbons: wide light band and narrower darker core
    for frac, color in ((1.0, BAND_OUTER), (0.3, BAND_INNER)):
        upper = [v + frac * w for v, w in zip(ev, ew)]
        lower = [v - frac * w for v, w in zip(ev, ew)]
        fig.add_trace(go.Scatter(
            x=et + et[::-1], y=upper + lower[::-1], xaxis=xa, yaxis=ya,
            mode="lines", fill="toself", fillcolor=color,
            line=dict(width=0, shape="spline", smoothing=0.8),
            hoverinfo="skip", showlegend=False))

    fig.add_trace(go.Scatter(
        x=et, y=ev, xaxis=xa, yaxis=ya, mode="lines", name="Enriched",
        line=dict(color=ENRICHED_COLOR, width=2, shape="spline", smoothing=0.8),
        showlegend=first, legendrank=3))

    fig.add_trace(go.Scatter(
        x=[r[0] for r in p["red"]], y=[r[1] for r in p["red"]], xaxis=xa, yaxis=ya,
        mode="lines", name="Reduced",
        line=dict(color=REDUCED_COLOR, width=2.4, dash="dashdot", shape="spline", smoothing=0.8),
        showlegend=first, legendrank=2))

    fig.add_trace(go.Scatter(
        x=[r[0] for r in p["det"]], y=[r[1] for r in p["det"]], xaxis=xa, yaxis=ya,
        mode="markers", name="Detailed",
        marker=dict(symbol="triangle-up", size=9, color=DETAILED_FILL,
                    line=dict(color="#3a3a3a", width=0.6)),
        showlegend=False))

    l, r, t, b = p["box"]
    axis_common = dict(showline=True, linecolor="#2b2b2b", linewidth=1, mirror=False,
                       ticks="inside", ticklen=4, tickcolor="#2b2b2b",
                       showgrid=True, gridcolor="#ececec", gridwidth=1, zeroline=False,
                       tickfont=dict(family=SANS, size=16, color="#333333"))
    fig.update_layout(**{
        "xaxis" + p["ax"]: dict(domain=[l / W, r / W], range=list(p["xr"]), anchor=ya,
                               tickvals=time_ticks, ticklabelstandoff=2, **axis_common),
        "yaxis" + p["ax"]: dict(domain=[1 - b / H, 1 - t / H], range=list(p["yr"]), anchor=xa,
                               tickvals=p["yt"], ticklabelstandoff=6, **axis_common),
    })

    annotations.append(dict(
        text="<i>x</i><sub>" + p["lab"] + "</sub>", textangle=-90,
        x=(l - 60) / W, y=1 - ((t + b) / 2 + p["dy"]) / H, xref="paper", yref="paper",
        xanchor="center", yanchor="middle",
        showarrow=False, font=dict(family=SERIF, size=25, color="#222222")))

# legend key for the detailed samples, drawn with a larger triangle
fig.add_trace(go.Scatter(
    x=[None], y=[None], mode="markers", name="Detailed",
    marker=dict(symbol="triangle-up", size=16, color=DETAILED_FILL,
                line=dict(color="#3a3a3a", width=0.6)),
    showlegend=True, legendrank=1))

annotations += [
    dict(text="Linear spring-mass-damper, <i>N</i> = 4 and <i>M</i> = 2", x=705 / W, y=1 - 22 / H,
         xref="paper", yref="paper", xanchor="center", yanchor="middle", showarrow=False,
         font=dict(family=SERIF, size=35, color="#111111")),
    dict(text="Time", x=373 / W, y=1 - 848 / H, xref="paper", yref="paper",
         xanchor="center", yanchor="middle", showarrow=False,
         font=dict(family=SERIF, size=33, color="#111111")),
    dict(text="Time", x=1017 / W, y=1 - 848 / H, xref="paper", yref="paper",
         xanchor="center", yanchor="middle", showarrow=False,
         font=dict(family=SERIF, size=33, color="#111111")),
    dict(text="(a) Calibration Scenario", x=46 / W, y=1 - 885 / H, xref="paper", yref="paper",
         xanchor="left", yanchor="middle", showarrow=False,
         font=dict(family=SERIF, size=28, color="#111111")),
    dict(text="(b) Validation Scenario", x=704 / W, y=1 - 885 / H, xref="paper", yref="paper",
         xanchor="left", yanchor="middle", showarrow=False,
         font=dict(family=SERIF, size=28, color="#111111")),
]

fig.update_layout(
    width=W, height=H, autosize=False,
    margin=dict(l=0, r=0, t=0, b=0),
    paper_bgcolor="white", plot_bgcolor="white",
    annotations=annotations,
    legend=dict(x=484 / W, y=1 - 57 / H, xanchor="left", yanchor="top",
                bgcolor="white", bordercolor="#333333", borderwidth=1,
                font=dict(family=SERIF, size=21, color="#222222"),
                itemwidth=30, tracegroupgap=0),
)

fig.write_html("out.html")
